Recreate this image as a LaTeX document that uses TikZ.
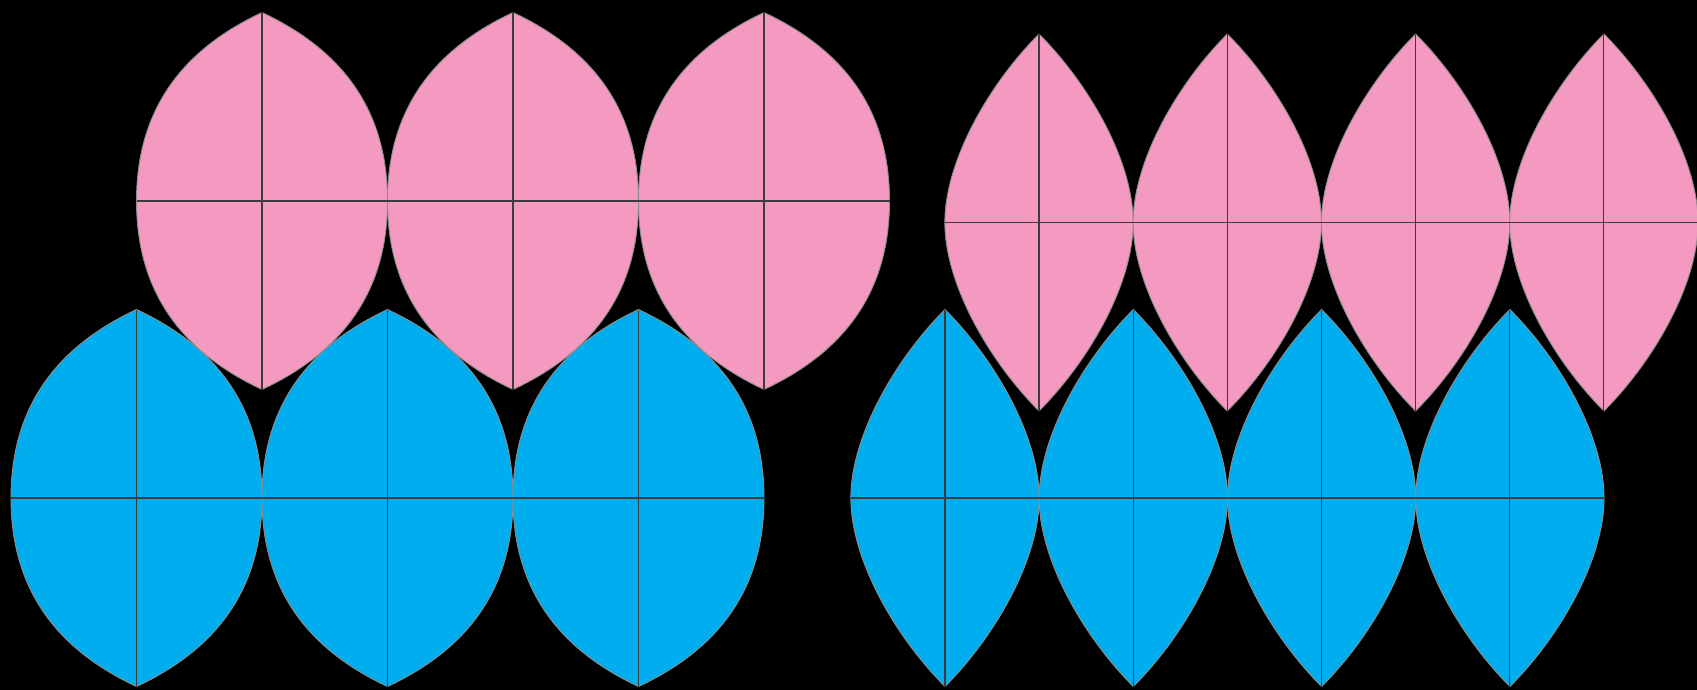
\documentclass[tikz,border=0pt]{standalone}
\usepackage{tikz}
\definecolor{petalpink}{HTML}{F49AC1}
\definecolor{petalblue}{HTML}{00AEEF}
\definecolor{rimgray}{HTML}{8C8C8C}
\definecolor{crossline}{HTML}{3C3C3C}
% \mylens{cx}{cy}{a}{b}{p1x}{p1y}{p2y}{fill}
\newcommand\mylens[8]{%
  \begin{scope}[shift={(#1,#2)}]
    \fill[#8] (0,#4) .. controls (#5,#6) and (#3,#7) .. (#3,0)
      .. controls (#3,-#7) and (#5,-#6) .. (0,-#4)
      .. controls (-#5,-#6) and (-#3,-#7) .. (-#3,0)
      .. controls (-#3,#7) and (-#5,#6) .. cycle;
    \draw[rim] (0,#4) .. controls (#5,#6) and (#3,#7) .. (#3,0)
      .. controls (#3,-#7) and (#5,-#6) .. (0,-#4)
      .. controls (-#5,-#6) and (-#3,-#7) .. (-#3,0)
      .. controls (-#3,#7) and (-#5,#6) .. cycle;
    \draw[cross] (0,#4) -- (0,-#4);
  \end{scope}}
\newcommand\widelens[3]{\mylens{#1}{#2}{125.5}{188.5}{86.1}{148.3}{85}{#3}}
\newcommand\narrowlens[3]{\mylens{#1}{#2}{94.15}{188.5}{49.5}{139}{62}{#3}}
\begin{document}
\begin{tikzpicture}[x=1pt,y=-1pt,
  rim/.style={draw=rimgray,line width=0.9pt,line join=round},
  cross/.style={draw=crossline,line width=1.1pt}]
\fill[black] (0,0) rectangle (1697,690);
\useasboundingbox (0,0) rectangle (1697,690);
% left group: blue row
\foreach \cx in {136.5,387.5,638.5} {\widelens{\cx}{498}{petalblue}}
\draw[cross] (11,498) -- (764,498);
% left group: pink row
\foreach \cx in {262,513,764} {\widelens{\cx}{201}{petalpink}}
\draw[cross] (136.5,201) -- (889.5,201);
% right group: blue row
\foreach \cx in {945,1133.3,1321.6,1509.9} {\narrowlens{\cx}{498}{petalblue}}
\draw[cross] (850.85,498) -- (1604.05,498);
% right group: pink row
\foreach \cx in {1039,1227.3,1415.6,1603.9} {\narrowlens{\cx}{222.5}{petalpink}}
\draw[cross] (944.85,222.5) -- (1697,222.5);
\end{tikzpicture}
\end{document}
